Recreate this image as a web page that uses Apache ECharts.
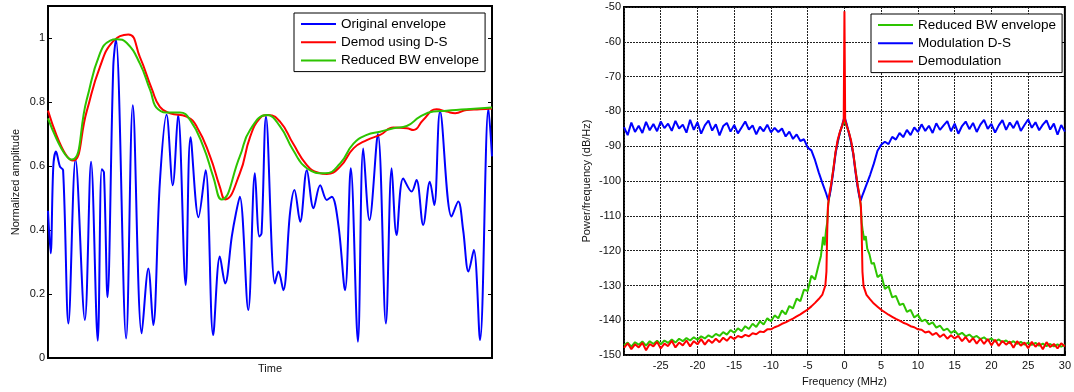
<!DOCTYPE html>
<html lang="en">
<head>
<meta charset="UTF-8">
<title>Envelope and spectrum</title>
<script src="https://cdn.jsdelivr.net/npm/echarts@6/dist/echarts.min.js"></script>
<style>
html, body { margin: 0; padding: 0; background: #fff; }
#main { width: 1074px; height: 392px; }
</style>
</head>
<body>
<div id="main"></div>
<script>
// left panel: time in arbitrary units (0..100), normalized amplitude
var origEnvelope = [
    [0,0.46],[0.6,0.327],[1.2,0.60],[1.8,0.645],[2.7,0.598],[3.4,0.587],[4.6,0.108],[6.2,0.62],
    [8.3,0.119],[9.7,0.613],[11.2,0.054],[12.1,0.59],[12.6,0.58],[13.4,0.19],[14.7,0.91],[15.3,0.996],
    [17.6,0.061],[19.1,0.79],[21.1,0.077],[22.6,0.28],[23.7,0.103],[25.2,0.55],[26.7,0.76],[28.1,0.54],
    [29.3,0.76],[31.0,0.228],[32.1,0.69],[33.9,0.44],[35.5,0.587],[37.2,0.072],[38.7,0.317],[39.9,0.233],
    [41.4,0.38],[42.3,0.45],[43.2,0.504],[45.1,0.15],[46.6,0.577],[47.6,0.38],[48.1,0.39],[49.1,0.754],
    [51.1,0.233],[51.9,0.27],[53.0,0.212],[54.5,0.452],[55.5,0.525],[56.8,0.426],[58.3,0.587],[59.8,0.468],
    [61.3,0.54],[62.8,0.494],[63.9,0.504],[65.4,0.416],[66.9,0.212],[68.2,0.593],[69.8,0.051],[71.0,0.655],
    [72.4,0.431],[74.3,0.70],[76.1,0.108],[77.4,0.593],[78.5,0.384],[80.0,0.561],[81.9,0.52],[83.0,0.556],
    [84.5,0.416],[86.0,0.551],[87.0,0.478],[88.3,0.77],[90.9,0.442],[92.4,0.489],[93.5,0.40],[94.7,0.27],
    [95.9,0.3375],[97.3,0.056],[99.2,0.78],[100,0.63]
];
var demodDS = [
    [0,0.773],[5.6,0.617],[8.7,0.77],[11.7,0.91],[14.7,0.99],[18.1,1.011],[20.7,0.94],[23.4,0.84],
    [25.2,0.785],[27.5,0.765],[31.2,0.754],[33.5,0.723],[36.5,0.63],[38.7,0.535],[39.9,0.4956],[43.2,0.577],
    [45.5,0.69],[47.7,0.749],[49.6,0.759],[52.3,0.738],[55.2,0.67],[58.3,0.603],[60.9,0.579],[62.8,0.575],
    [65.8,0.598],[68.8,0.655],[71.8,0.681],[74.8,0.697],[77.8,0.72],[80.8,0.718],[82.3,0.7125],[84.5,0.744],
    [87.5,0.777],[89.8,0.77],[91.7,0.765],[94.3,0.775],[97.3,0.777],[100,0.78]
];
var reducedBW = [
    [0,0.749],[5.3,0.62],[8.7,0.806],[11.7,0.952],[14.0,0.992],[15.5,0.996],[17.7,0.985],[20.7,0.92],
    [23.0,0.8375],[24.8,0.777],[27.5,0.767],[29.7,0.767],[32.0,0.744],[35.0,0.66],[37.2,0.567],[39.1,0.4956],
    [43.2,0.63],[45.5,0.7125],[49.3,0.759],[52.3,0.723],[55.2,0.65],[58.3,0.593],[62.4,0.577],[65.8,0.608],
    [68.8,0.67],[71.8,0.697],[74.8,0.707],[77.8,0.718],[80.8,0.725],[83.8,0.754],[86.8,0.77],[89.8,0.773],
    [94.3,0.777],[100,0.783]
];

// right panel: frequency (MHz), power/frequency (dB/Hz)
var specReducedBW = [
    [-30,-147.2],[-29.5,-146.4],[-29,-147.6],[-28.5,-146.3],[-28,-147.0],[-27.5,-146.1],[-27,-147.3],[-26.5,-146.0],
    [-26,-146.8],[-25.5,-145.9],[-25,-146.9],[-24.5,-145.8],[-24,-146.5],[-23.5,-145.5],[-23,-146.4],[-22.5,-145.3],
    [-22,-146.0],[-21.5,-145.1],[-21,-145.8],[-20.5,-144.9],[-20,-145.6],[-19.5,-144.6],[-19,-145.2],[-18.5,-144.3],
    [-18,-144.9],[-17.5,-143.9],[-17,-144.5],[-16.5,-143.4],[-16,-144.1],[-15.5,-142.8],[-15,-143.6],[-14.5,-142.3],
    [-14,-143.1],[-13.5,-141.7],[-13,-142.5],[-12.5,-141.0],[-12,-141.9],[-11.5,-140.3],[-11,-141.2],[-10.5,-139.4],
    [-10,-140.3],[-9.5,-138.6],[-9,-139.4],[-8.5,-137.2],[-8,-138.3],[-7.5,-135.9],[-7,-136.6],[-6.5,-133.8],
    [-6,-134.5],[-5.5,-131.2],[-5,-131.6],[-4.5,-127.2],[-4,-128.3],[-3.5,-124.0],[-3.2,-121.5],[-2.9,-116.0],
    [-2.7,-118.5],[-2.5,-114.0],[-2.35,-112],[-2.2,-106.5],[-1.8,-101],[-1.2,-91.7],[-0.6,-85.9],[0,-82.5],
    [0.6,-86],[1.2,-92],[1.8,-101.3],[2.2,-106.6],[2.35,-112],[2.5,-114.5],[2.7,-117.0],[2.9,-115.8],
    [3.1,-119.4],[3.4,-121.0],[3.7,-123.8],[4,-123.5],[4.5,-127.6],[5,-126.8],[5.5,-131.0],[6,-130.2],
    [6.5,-133.4],[7,-133.0],[7.5,-135.6],[8,-135.2],[8.5,-137.6],[9,-137.0],[9.5,-139.2],[10,-138.4],
    [10.5,-140.3],[11,-139.8],[11.5,-141.2],[12,-140.6],[12.5,-142.1],[13,-141.5],[13.5,-142.9],[14,-142.4],
    [14.5,-143.6],[15,-143.0],[15.5,-144.2],[16,-143.6],[16.5,-144.6],[17,-144.1],[17.5,-145.0],[18,-144.5],
    [18.5,-145.4],[19,-144.9],[19.5,-145.8],[20,-145.2],[20.5,-146.1],[21,-145.5],[21.5,-146.3],[22,-145.8],
    [22.5,-146.6],[23,-146.0],[23.5,-146.8],[24,-146.2],[24.5,-147.0],[25,-146.4],[25.5,-147.1],[26,-146.5],
    [26.5,-147.3],[27,-146.7],[27.5,-147.4],[28,-146.8],[28.5,-147.5],[29,-146.9],[29.5,-147.6],[30,-147.0]
];
var specModDS = [
    [-30,-84.5],[-29.5,-86.8],[-29,-83.2],[-28.5,-85.9],[-28,-84.1],[-27.5,-86.2],[-27,-83.0],[-26.5,-85.4],
    [-26,-83.6],[-25.5,-85.7],[-25,-82.9],[-24.5,-84.8],[-24,-83.5],[-23.5,-85.6],[-23,-82.7],[-22.5,-84.9],
    [-22,-83.8],[-21.5,-86.1],[-21,-82.4],[-20.5,-85.3],[-20,-83.1],[-19.5,-86.4],[-19,-84.0],[-18.5,-82.6],
    [-18,-85.5],[-17.5,-83.7],[-17,-86.9],[-16.5,-84.2],[-16,-83.3],[-15.5,-85.8],[-15,-83.9],[-14.5,-86.3],
    [-14,-84.6],[-13.5,-82.9],[-13,-85.2],[-12.5,-84.0],[-12,-86.6],[-11.5,-84.4],[-11,-85.7],[-10.5,-83.8],
    [-10,-86.0],[-9.5,-84.7],[-9,-85.9],[-8.5,-84.9],[-8,-87.2],[-7.5,-85.8],[-7,-87.9],[-6.5,-86.6],
    [-6,-88.5],[-5.5,-88.0],[-5,-90.4],[-4.5,-91.2],[-4,-94.0],[-3.5,-97.5],[-3,-100.6],[-2.5,-103.5],
    [-2.2,-105.5],[-2.0,-104.0],[-1.8,-101.5],[-1.5,-97.0],[-1.2,-92.0],[-0.9,-88.5],[-0.6,-86.0],[-0.3,-83.8],
    [0,-81.5],[0.3,-83.6],[0.6,-86.2],[0.9,-88.8],[1.2,-92.3],[1.5,-97.4],[1.8,-101.8],[2.0,-104.2],
    [2.2,-105.6],[2.5,-103.8],[3,-101.0],[3.5,-98.2],[4,-95.0],[4.5,-91.3],[5,-89.6],[5.5,-88.7],
    [6,-89.4],[6.5,-87.3],[7,-88.1],[7.5,-86.2],[8,-87.4],[8.5,-85.3],[9,-86.8],[9.5,-84.6],
    [10,-85.9],[10.5,-83.7],[11,-85.6],[11.5,-84.1],[12,-86.2],[12.5,-83.4],[13,-85.3],[13.5,-84.0],
    [14,-82.8],[14.5,-85.7],[15,-83.5],[15.5,-86.4],[16,-84.2],[16.5,-82.9],[17,-85.1],[17.5,-83.3],
    [18,-85.9],[18.5,-83.8],[19,-82.4],[19.5,-85.0],[20,-83.6],[20.5,-86.1],[21,-84.0],[21.5,-82.5],
    [22,-85.3],[22.5,-83.2],[23,-84.8],[23.5,-82.7],[24,-85.6],[24.5,-83.9],[25,-82.3],[25.5,-84.7],
    [26,-83.1],[26.5,-85.4],[27,-83.8],[27.5,-82.6],[28,-85.2],[28.5,-83.5],[29,-86.7],[29.5,-83.9],
    [30,-85.8]
];
var specDemod = [
    [-30,-147.9],[-29.5,-146.6],[-29,-148.3],[-28.5,-146.9],[-28,-147.8],[-27.5,-146.5],[-27,-148.6],[-26.5,-146.8],
    [-26,-147.5],[-25.5,-146.2],[-25,-148.1],[-24.5,-146.7],[-24,-147.4],[-23.5,-145.9],[-23,-147.8],[-22.5,-146.4],
    [-22,-147.2],[-21.5,-145.8],[-21,-147.5],[-20.5,-146.0],[-20,-146.9],[-19.5,-145.4],[-19,-147.0],[-18.5,-145.6],
    [-18,-146.5],[-17.5,-145.3],[-17,-146.3],[-16.5,-145.0],[-16,-145.9],[-15.5,-144.7],[-15,-145.4],[-14.5,-144.5],
    [-14,-144.9],[-13.5,-144.2],[-13,-144.6],[-12.5,-143.7],[-12,-144.0],[-11.5,-143.2],[-11,-143.4],[-10.5,-142.6],
    [-10,-142.6],[-9.5,-142.0],[-9,-141.6],[-8.5,-141.0],[-8,-140.6],[-7.5,-140.0],[-7,-139.5],[-6.5,-138.9],
    [-6,-138.3],[-5.5,-137.6],[-5,-136.9],[-4.5,-136.0],[-4,-135.0],[-3.5,-133.9],[-3,-132.6],[-2.6,-130.0],
    [-2.45,-126],[-2.35,-115],[-2.25,-107.5],[-2.1,-104.5],[-1.8,-100.8],[-1.5,-96.5],[-1.2,-91.5],[-0.9,-88.0],
    [-0.6,-85.8],[-0.3,-84.0],[-0.1,-82.5],[0,-51.2],[0.1,-82.5],[0.3,-84.0],[0.6,-86.0],[0.9,-88.3],
    [1.2,-92.0],[1.5,-97.0],[1.8,-101.2],[2.1,-104.8],[2.25,-107.5],[2.35,-115],[2.45,-126],[2.6,-130.2],
    [3,-132.7],[3.5,-134.0],[4,-135.2],[4.5,-136.1],[5,-137.0],[5.5,-137.7],[6,-138.4],[6.5,-139.0],
    [7,-139.6],[7.5,-140.1],[8,-140.7],[8.5,-141.1],[9,-141.7],[9.5,-142.0],[10,-142.6],[10.5,-142.7],
    [11,-143.5],[11.5,-143.2],[12,-144.2],[12.5,-143.6],[13,-144.8],[13.5,-144.0],[14,-145.3],[14.5,-144.3],
    [15,-145.2],[15.5,-144.5],[16,-146.0],[16.5,-144.8],[17,-146.3],[17.5,-145.1],[18,-146.7],[18.5,-145.3],
    [19,-146.8],[19.5,-145.4],[20,-147.2],[20.5,-145.6],[21,-147.4],[21.5,-145.9],[22,-147.0],[22.5,-146.1],
    [23,-147.9],[23.5,-146.0],[24,-147.3],[24.5,-146.4],[25,-148.0],[25.5,-146.2],[26,-147.6],[26.5,-146.5],
    [27,-148.3],[27.5,-146.3],[28,-147.7],[28.5,-146.8],[29,-148.1],[29.5,-146.6],[30,-147.5]
];

var BLUE = '#0000ff', RED = '#ff0000', GREEN = '#2dc400';
var FONT = 'Liberation Sans, Arial, sans-serif';

var myChart = echarts.init(document.getElementById('main'));

function lineSeries(name, data, color, xi, yi, smooth) {
    return {
        name: name, type: 'line', data: data,
        xAxisIndex: xi, yAxisIndex: yi,
        showSymbol: false, symbol: 'none', smooth: smooth,
        lineStyle: { color: color, width: 2 },
        itemStyle: { color: color },
        animation: false
    };
}

var tickIn = { show: true, inside: true, length: 4, lineStyle: { color: '#000', width: 1 } };
var lbl = { fontFamily: FONT, fontSize: 11, color: '#111' };
// matlab-like grid: dark, finely dotted
var gridLine = { show: true, lineStyle: { color: '#222', type: [2, 1], width: 1 } };
var legendBase = {
    orient: 'vertical', selectedMode: false,
    icon: 'rect', itemWidth: 35, itemHeight: 2, itemGap: 3.3,
    padding: [3.5, 6, 3.5, 7],
    borderColor: '#000', borderWidth: 1, backgroundColor: '#fff',
    textStyle: { fontFamily: FONT, fontSize: 13.5, color: '#000', lineHeight: 15 }
};

var option = {
    backgroundColor: '#fff',
    textStyle: { fontFamily: FONT },
    grid: [
        { left: 48, top: 6, width: 444, height: 352, show: true, borderColor: '#000', borderWidth: 2, backgroundColor: '#fff' },
        { left: 624, top: 7, width: 446, height: 350, show: true, borderColor: '#000', borderWidth: 2, backgroundColor: '#fff' }
    ],
    legend: [
        Object.assign({}, legendBase, { left: 294, top: 13, data: ['Original envelope', 'Demod using D-S', 'Reduced BW envelope'] }),
        Object.assign({}, legendBase, { left: 871, top: 14, data: ['Reduced BW envelope', 'Modulation D-S', 'Demodulation'] })
    ],
    xAxis: [
        {
            type: 'value', gridIndex: 0, min: 0, max: 100,
            axisLine: { show: false }, axisTick: { show: false }, axisLabel: { show: false }, splitLine: { show: false },
            name: 'Time', nameLocation: 'middle', nameGap: 5, nameTextStyle: lbl
        },
        {
            type: 'value', gridIndex: 1, min: -30, max: 30, interval: 5,
            axisLine: { show: false }, axisTick: tickIn,
            axisLabel: Object.assign({ margin: 5, showMinLabel: false }, lbl),
            splitLine: gridLine,
            name: 'Frequency (MHz)', nameLocation: 'middle', nameGap: 18, nameTextStyle: lbl
        }
    ],
    yAxis: [
        {
            type: 'value', gridIndex: 0, min: 0, max: 1.1, interval: 0.2,
            axisLine: { show: false }, axisTick: tickIn,
            axisLabel: Object.assign({ margin: 3, showMaxLabel: false }, lbl),
            splitLine: { show: false },
            name: 'Normalized amplitude', nameLocation: 'middle', nameGap: 27, nameTextStyle: lbl
        },
        {
            type: 'value', gridIndex: 0, position: 'right', min: 0, max: 1.1, interval: 0.2,
            axisLine: { show: false }, axisTick: tickIn, axisLabel: { show: false }, splitLine: { show: false }
        },
        {
            type: 'value', gridIndex: 1, min: -150, max: -50, interval: 10,
            axisLine: { show: false }, axisTick: tickIn,
            axisLabel: Object.assign({ margin: 3 }, lbl),
            splitLine: gridLine,
            name: 'Power/frequency (dB/Hz)', nameLocation: 'middle', nameGap: 32, nameTextStyle: lbl
        },
        {
            type: 'value', gridIndex: 1, position: 'right', min: -150, max: -50, interval: 10,
            axisLine: { show: false }, axisTick: tickIn, axisLabel: { show: false }, splitLine: { show: false }
        }
    ],
    series: [
        lineSeries('Original envelope', origEnvelope, BLUE, 0, 0, 0.35),
        lineSeries('Demod using D-S', demodDS, RED, 0, 0, 0.5),
        lineSeries('Reduced BW envelope', reducedBW, GREEN, 0, 0, 0.5),
        lineSeries('Reduced BW envelope', specReducedBW, GREEN, 1, 2, false),
        lineSeries('Modulation D-S', specModDS, BLUE, 1, 2, false),
        lineSeries('Demodulation', specDemod, RED, 1, 2, false)
    ]
};

myChart.setOption(option);
</script>
</body>
</html>
